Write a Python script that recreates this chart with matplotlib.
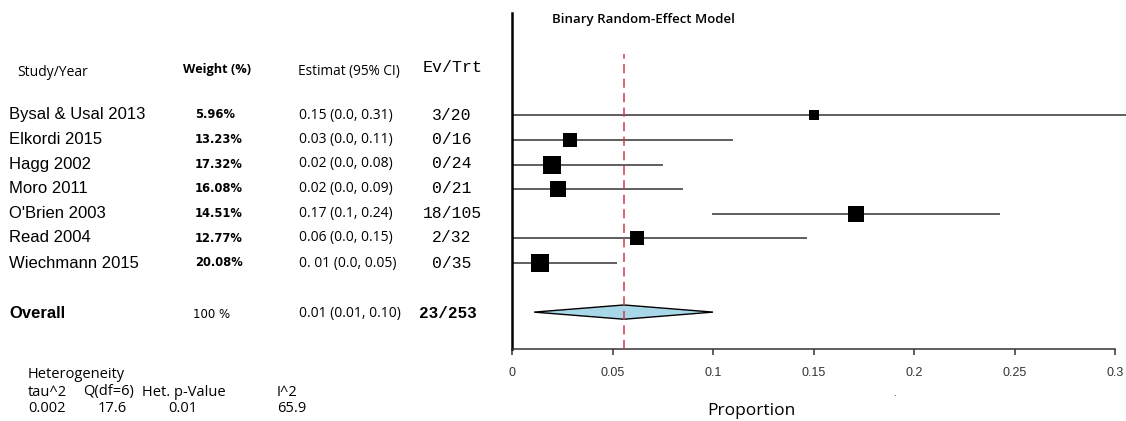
import numpy as np
import matplotlib
matplotlib.use("Agg")
import matplotlib.pyplot as plt
from matplotlib.patches import Polygon

# data
studies = ["Bysal & Usal 2013", "Elkordi 2015", "Hagg 2002", "Moro 2011",
           "O'Brien 2003", "Read 2004", "Wiechmann 2015"]
weights = [5.96, 13.23, 17.32, 16.08, 14.51, 12.77, 20.08]
weight_txt = ["5.96%", "13.23%", "17.32%", "16.08%", "14.51%", "12.77%", "20.08%"]
est_txt = ["0.15 (0.0, 0.31)", "0.03 (0.0, 0.11)", "0.02 (0.0, 0.08)",
           "0.02 (0.0, 0.09)", "0.17 (0.1, 0.24)", "0.06 (0.0, 0.15)",
           "0. 01 (0.0, 0.05)"]
ev_trt = ["3/20", "0/16", "0/24", "0/21", "18/105", "2/32", "0/35"]
est = [0.150, 0.029, 0.020, 0.023, 0.171, 0.062, 0.014]
lo = [0.0, 0.0, 0.0, 0.0, 0.0995, 0.0, 0.0]
hi = [0.31, 0.110, 0.075, 0.085, 0.243, 0.147, 0.052]

overall_est = 0.0557
overall_lo = 0.011
overall_hi = 0.100
overall_txt = ["Overall", "100 %", "0.01 (0.01, 0.10)", "23/253"]

het_head = ["tau^2", "Q(df=6)", "Het. p-Value", "I^2"]
het_vals = ["0.002", "17.6", "0.01", "65.9"]

xticks = [0, 0.05, 0.1, 0.15, 0.2, 0.25, 0.3]
xtick_lbl = ["0", "0.05", "0.1", "0.15", "0.2", "0.25", "0.3"]

W, H = 1126, 421
fig = plt.figure(figsize=(W / 100, H / 100), dpi=100)


def fx(x):
    return x / W


def fy(y):
    return 1 - y / H


ax = fig.add_axes([fx(512), fy(349), fx(1115) - fx(512), fy(13) - fy(349)])
ax.set_xlim(0, 0.3)
ax.set_ylim(0, 13.66)

ypos = [9.5 - i for i in range(len(studies))]
for i in range(len(studies)):
    ax.plot([lo[i], hi[i]], [ypos[i], ypos[i]], color="#333333", lw=1.1,
            clip_on=False, zorder=2, solid_capstyle="butt")
    side = 4.1 * np.sqrt(weights[i]) / 1.389  # px -> pt
    ax.plot(est[i], ypos[i], marker="s", ms=side, color="black", mec="black",
            mew=0, zorder=3)

dy = 0.29
diamond = Polygon([[overall_lo, 1.5], [overall_est, 1.5 + dy],
                   [overall_hi, 1.5], [overall_est, 1.5 - dy]],
                  closed=True, facecolor="#A8D8E8", edgecolor="black", lw=1.0,
                  zorder=3)
ax.add_patch(diamond)

ax.plot([overall_est, overall_est], [0, 12], color="#D03A4A", lw=1.1,
        dashes=(6, 3.5), zorder=4)

for s in ["top", "right"]:
    ax.spines[s].set_visible(False)
ax.spines["left"].set_linewidth(1.8)
ax.spines["left"].set_color("black")
ax.spines["bottom"].set_linewidth(1.1)
ax.spines["bottom"].set_color("#333333")
ax.set_yticks([])
ax.set_xticks(xticks)
ax.set_xticklabels(xtick_lbl, fontsize=9, family="Liberation Sans",
                   color="#333333")
ax.tick_params(axis="x", direction="out", length=4, width=1.1,
               color="#333333", pad=9)

fig.text(fx(552), fy(20), "Binary Random-Effect Model", fontsize=9.5,
         family="Open Sans", fontweight="semibold", va="center", ha="left")
fig.text(fx(751), fy(411), "Proportion", fontsize=12.5, family="Open Sans",
         va="center", ha="center")
fig.text(fx(894), fy(394), ".", fontsize=6, va="center", ha="center")

# left table
fig.text(fx(17), fy(72), "Study/Year", fontsize=10, family="Open Sans",
         va="center", ha="left")
fig.text(fx(183), fy(69), "Weight (%)", fontsize=9.2, family="Open Sans",
         fontweight="bold", va="center", ha="left")
fig.text(fx(298), fy(71), "Estimat (95% CI)", fontsize=9.8, family="Open Sans",
         va="center", ha="left")
fig.text(fx(423), fy(68), "Ev/Trt", fontsize=12, family="Liberation Mono",
         va="center", ha="left")

rows_y = [115, 139.5, 164, 189, 213.5, 238, 263]
for i in range(len(studies)):
    y = fy(rows_y[i])
    fig.text(fx(9), y, studies[i], fontsize=12, family="Liberation Sans",
             va="center", ha="left")
    fig.text(fx(195), y, weight_txt[i], fontsize=8.3, family="DejaVu Sans",
             fontweight="bold", va="center", ha="left")
    fig.text(fx(299), y, est_txt[i], fontsize=10, family="Open Sans",
             va="center", ha="left")
    fig.text(fx(452), y, ev_trt[i], fontsize=11.8, family="Liberation Mono",
             va="center", ha="center")

yo = fy(314)
fig.text(fx(9), yo, overall_txt[0], fontsize=12, family="Liberation Sans",
         fontweight="bold", va="center", ha="left")
fig.text(fx(193), yo, overall_txt[1], fontsize=8.5, family="DejaVu Sans",
         va="center", ha="left")
fig.text(fx(299), yo, overall_txt[2], fontsize=10, family="Open Sans",
         va="center", ha="left")
fig.text(fx(448), yo, overall_txt[3], fontsize=11.5, family="Liberation Mono",
         fontweight="bold", va="center", ha="center")

# heterogeneity block
fig.text(fx(28), fy(375), "Heterogeneity", fontsize=10.5, family="Open Sans",
         va="center", ha="left")
het_x = [28, 83, 142, 277]
val_x = [28, 98, 168, 277]
for i in range(len(het_head)):
    fig.text(fx(het_x[i]), fy(392), het_head[i], fontsize=10.5,
             family="Open Sans", va="center", ha="left")
    fig.text(fx(val_x[i]), fy(409), het_vals[i], fontsize=10.5,
             family="Open Sans", va="center", ha="left")

fig.savefig("out.png", dpi=100)
